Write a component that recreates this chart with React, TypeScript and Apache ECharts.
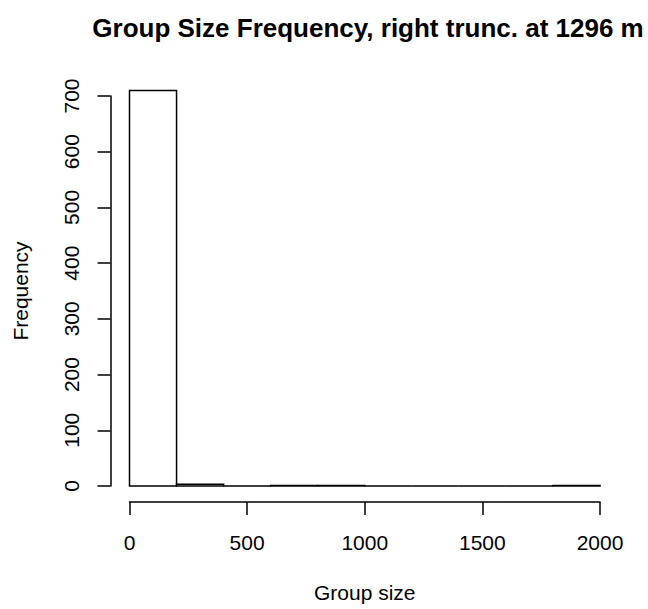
import React, { useEffect, useRef } from "react";
import * as echarts from "echarts";

const binStarts = [0, 200, 400, 600, 800, 1000, 1200, 1400, 1600, 1800];
const binEnds = [200, 400, 600, 800, 1000, 1200, 1400, 1600, 1800, 2000];
const counts = [710, 3, 0, 1, 1, 0, 0, 0, 0, 1];
const xTicks = [0, 500, 1000, 1500, 2000];
const yTicks = [0, 100, 200, 300, 400, 500, 600, 700];

const titleText = "Group Size Frequency, right trunc. at 1296 m";
const xLabel = "Group size";
const yLabel = "Frequency";

const FONT = "'Liberation Sans', Arial, Helvetica, sans-serif";

export default function App() {
  const ref = useRef<HTMLDivElement>(null);
  useEffect(() => {
    if (!ref.current) return;
    const chart = echarts.init(ref.current, null, { renderer: "svg" });
    const data = binStarts.map((s, i) => [s, binEnds[i], counts[i]]);
    const lw = 1.5;
    chart.setOption({
      animation: false,
      backgroundColor: "#ffffff",
      textStyle: { fontFamily: FONT },
      grid: { left: 129.5, right: 48, top: 96, bottom: 123, containLabel: false },
      xAxis: {
        type: "value",
        min: xTicks[0],
        max: xTicks[xTicks.length - 1],
        interval: 500,
        offset: 16,
        name: xLabel,
        nameLocation: "middle",
        nameGap: 80,
        nameTextStyle: { fontSize: 21, color: "#000", fontFamily: FONT },
        axisLine: { show: true, onZero: false, lineStyle: { color: "#000", width: lw } },
        axisTick: { show: true, length: 13, lineStyle: { color: "#000", width: lw } },
        axisLabel: {
          fontSize: 21,
          color: "#000",
          margin: 30,
          fontFamily: FONT,
          formatter: (v: number) => String(v),
        },
        splitLine: { show: false },
      },
      yAxis: {
        type: "value",
        min: yTicks[0],
        max: yTicks[yTicks.length - 1],
        interval: 100,
        offset: 19,
        name: yLabel,
        nameLocation: "middle",
        nameGap: 80,
        nameTextStyle: { fontSize: 21, color: "#000", fontFamily: FONT },
        axisLine: { show: true, onZero: false, lineStyle: { color: "#000", width: lw } },
        axisTick: { show: true, length: 13, lineStyle: { color: "#000", width: lw } },
        axisLabel: {
          fontSize: 21,
          color: "#000",
          margin: 29,
          rotate: 90,
          fontFamily: FONT,
          formatter: (v: number) => String(v),
        },
        splitLine: { show: false },
      },
      graphic: [
        {
          type: "text",
          x: 368,
          y: 28,
          style: {
            text: titleText,
            fill: "#000",
            font: `bold 26px ${FONT}`,
            textAlign: "center",
            textVerticalAlign: "middle",
          },
        },
      ],
      series: [
        {
          type: "custom",
          clip: false,
          data,
          renderItem: (params: any, api: any) => {
            const x0 = api.value(0);
            const x1 = api.value(1);
            const c = api.value(2);
            const p0 = api.coord([x0, 0]);
            const p1 = api.coord([x1, c]);
            return {
              type: "rect",
              shape: { x: p0[0], y: p1[1], width: p1[0] - p0[0], height: p0[1] - p1[1] },
              style: { fill: "#ffffff", stroke: "#000000", lineWidth: lw },
            };
          },
        },
      ],
    });
    return () => chart.dispose();
  }, []);
  return (
    <div
      ref={ref}
      style={{ position: "fixed", left: 0, top: 0, width: 648, height: 609, background: "#fff" }}
    />
  );
}
